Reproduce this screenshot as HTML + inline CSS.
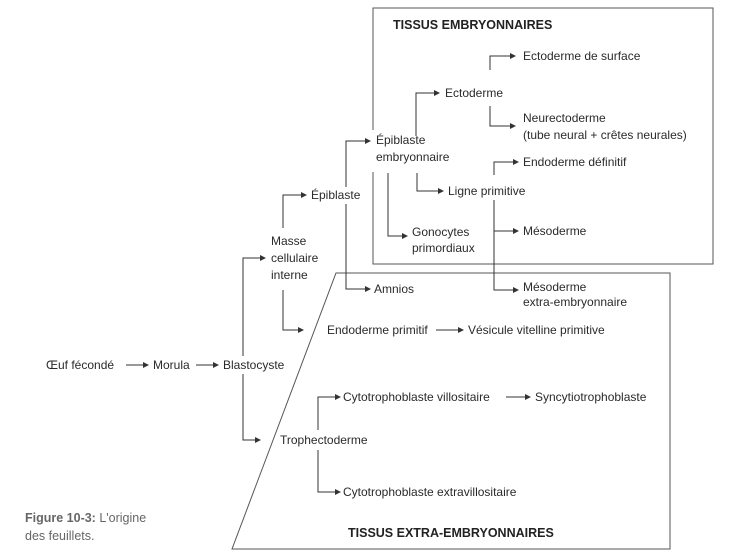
<!DOCTYPE html>
<html><head><meta charset="utf-8"><style>
html,body{margin:0;padding:0;background:#fff;}
svg{display:block;}
text{font-family:"Liberation Sans",sans-serif;font-size:12px;fill:#2a2a2a;}
.b{font-weight:bold;font-size:12.5px;fill:#222;}
.c{fill:#666;font-size:12.5px;}
</style></head><body>
<svg width="729" height="554" viewBox="0 0 729 554" xmlns="http://www.w3.org/2000/svg">
<defs>
<marker id="a" markerWidth="6" markerHeight="6" refX="5" refY="3" orient="auto" markerUnits="userSpaceOnUse"><path d="M0,0 L6,3 L0,6 Z" fill="#333"/></marker>
</defs>
<g fill="none" stroke="#555" stroke-width="1">
<path d="M373,130 V8 H713 V264 H373 V172"/>
<path d="M336,273 H670 V549 H232 Z"/>
<line x1="243" y1="356" x2="243" y2="258" stroke="#333"/>
<line x1="346" y1="187" x2="346" y2="141" stroke="#333"/>
</g>
<g fill="none" stroke="#333" stroke-width="1" marker-end="url(#a)">
<line x1="126" y1="365" x2="148" y2="365"/>
<line x1="196" y1="365" x2="218" y2="365"/>
<polyline points="243,300 243,258 265,258"/>
<polyline points="243,374 243,440 260,440"/>
<polyline points="283,228 283,195 306,195"/>
<polyline points="283,290 283,330 303,330"/>
<polyline points="346,160 346,141 370,141"/>
<polyline points="346,204 346,289 370,289"/>
<polyline points="416,136 416,93 439,93"/>
<polyline points="417,173 417,191 443,191"/>
<polyline points="388,173 388,236 407,236"/>
<polyline points="490,70 490,56 515,56"/>
<polyline points="490,106 490,126 515,126"/>
<polyline points="494,175 494,162 518,162"/>
<polyline points="494,200 494,231 518,231"/>
<polyline points="494,231 494,290 518,290"/>
<line x1="436" y1="330" x2="463" y2="330"/>
<polyline points="318,430 318,397 340,397"/>
<polyline points="318,450 318,492 340,492"/>
<line x1="506" y1="397" x2="530" y2="397"/>
</g>
<text x="393" y="29" class="b">TISSUS EMBRYONNAIRES</text>
<text x="523" y="60">Ectoderme de surface</text>
<text x="445" y="97">Ectoderme</text>
<text x="523" y="122">Neurectoderme</text>
<text x="523" y="139">(tube neural + crêtes neurales)</text>
<text x="376" y="144">Épiblaste</text>
<text x="376" y="161">embryonnaire</text>
<text x="523" y="166">Endoderme définitif</text>
<text x="448" y="195">Ligne primitive</text>
<text x="311" y="199">Épiblaste</text>
<text x="412" y="236">Gonocytes</text>
<text x="412" y="252">primordiaux</text>
<text x="523" y="235">Mésoderme</text>
<text x="271" y="245">Masse</text>
<text x="271" y="262">cellulaire</text>
<text x="271" y="279">interne</text>
<text x="374" y="293">Amnios</text>
<text x="523" y="291">Mésoderme</text>
<text x="523" y="306">extra-embryonnaire</text>
<text x="327" y="334">Endoderme primitif</text>
<text x="468" y="334">Vésicule vitelline primitive</text>
<text x="46" y="369">Œuf fécondé</text>
<text x="153" y="369">Morula</text>
<text x="223" y="369">Blastocyste</text>
<text x="343" y="401">Cytotrophoblaste villositaire</text>
<text x="535" y="401">Syncytiotrophoblaste</text>
<text x="280" y="444">Trophectoderme</text>
<text x="343" y="496">Cytotrophoblaste extravillositaire</text>
<text x="25" y="522" class="c"><tspan font-weight="bold">Figure 10-3:</tspan> L'origine</text>
<text x="25" y="540" class="c">des feuillets.</text>
<text x="348" y="537" class="b">TISSUS EXTRA-EMBRYONNAIRES</text>
</svg>
</body></html>
